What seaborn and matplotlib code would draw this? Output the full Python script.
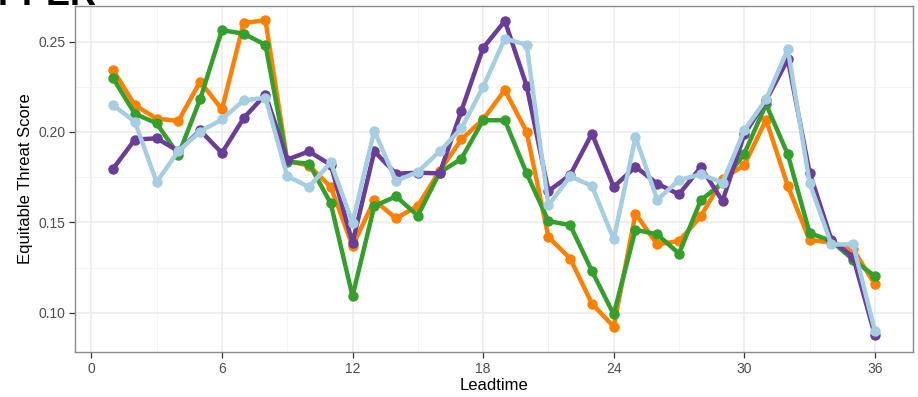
import numpy as np
import pandas as pd
import matplotlib
matplotlib.use("Agg")
import matplotlib.pyplot as plt
import seaborn as sns
from matplotlib.ticker import MultipleLocator

leadtime = list(range(1, 37))
series_names = ["orange", "green", "purple", "lightblue"]
orange = [0.2343, 0.2148, 0.2074, 0.2061, 0.2279, 0.2125, 0.2603, 0.2618, 0.1840,
          0.1814, 0.1696, 0.1369, 0.1622, 0.1522, 0.1592, 0.1784, 0.1959, 0.2070,
          0.2232, 0.2000, 0.1419, 0.1300, 0.1050, 0.0923, 0.1548, 0.1378, 0.1397,
          0.1533, 0.1740, 0.1817, 0.2068, 0.1701, 0.1402, 0.1389, 0.1351, 0.1157]
green = [0.2297, 0.2101, 0.2048, 0.1873, 0.2181, 0.2563, 0.2544, 0.2482, 0.1836,
         0.1825, 0.1605, 0.1092, 0.1590, 0.1644, 0.1537, 0.1775, 0.1852, 0.2065,
         0.2065, 0.1771, 0.1507, 0.1485, 0.1231, 0.0991, 0.1459, 0.1434, 0.1327,
         0.1622, 0.1720, 0.1880, 0.2153, 0.1876, 0.1441, 0.1397, 0.1293, 0.1203]
purple = [0.1797, 0.1958, 0.1965, 0.1895, 0.2009, 0.1884, 0.2077, 0.2207, 0.1847,
          0.1893, 0.1818, 0.1387, 0.1893, 0.1769, 0.1775, 0.1771, 0.2116, 0.2465,
          0.2614, 0.2255, 0.1673, 0.1762, 0.1991, 0.1696, 0.1808, 0.1714, 0.1655,
          0.1806, 0.1618, 0.1987, 0.2175, 0.2402, 0.1775, 0.1404, 0.1308, 0.0876]
lightblue = [0.2148, 0.2057, 0.1723, 0.1895, 0.2002, 0.2070, 0.2175, 0.2190, 0.1756,
             0.1696, 0.1832, 0.1498, 0.2007, 0.1729, 0.1779, 0.1893, 0.2020, 0.2249,
             0.2517, 0.2482, 0.1594, 0.1755, 0.1701, 0.1406, 0.1972, 0.1625, 0.1734,
             0.1766, 0.1720, 0.2009, 0.2181, 0.2458, 0.1718, 0.1378, 0.1378, 0.0899]
x_ticks = [0, 6, 12, 18, 24, 30, 36]
y_ticks = [0.10, 0.15, 0.20, 0.25]
y_tick_labels = ["0.10", "0.15", "0.20", "0.25"]

colors = {"orange": "#FF7F00", "green": "#33A02C", "purple": "#6A3D9A", "lightblue": "#A6CEE3"}

frames = []
for name, vals in zip(series_names, [orange, green, purple, lightblue]):
    frames.append(pd.DataFrame({"Leadtime": leadtime, "ETS": vals, "model": name}))
df = pd.concat(frames, ignore_index=True)

sns.set_style("white")
plt.rcParams["font.family"] = ["Liberation Sans", "DejaVu Sans"]

fig = plt.figure(figsize=(9.18, 3.97), dpi=100)
ax = fig.add_axes([75 / 918, 1 - 352 / 397, (913 - 75) / 918, (352 - 6) / 397])

sns.lineplot(data=df, x="Leadtime", y="ETS", hue="model", hue_order=series_names,
             palette=colors, marker="o", markersize=7.5, markeredgewidth=0,
             linewidth=3.2, legend=False, ax=ax, zorder=3)

ax.set_xlim(-0.75, 37.75)
ax.set_ylim(0.0783, 0.2697)
ax.set_xticks(x_ticks)
ax.set_yticks(y_ticks)
ax.set_yticklabels(y_tick_labels)
ax.xaxis.set_minor_locator(MultipleLocator(3))
ax.yaxis.set_minor_locator(MultipleLocator(0.025))
ax.grid(True, which="major", color="#EBEBEB", linewidth=1.1, zorder=0)
ax.grid(True, which="minor", color="#F2F2F2", linewidth=0.6, zorder=0)
ax.set_axisbelow(True)
for s in ax.spines.values():
    s.set_color("#8A8A8A")
    s.set_linewidth(1.0)
ax.tick_params(axis="both", which="major", length=4, width=0.9, color="#333333",
               labelsize=10, labelcolor="#4D4D4D", pad=3)
ax.tick_params(axis="both", which="minor", length=0)
ax.tick_params(bottom=True, left=True)
ax.set_xlabel("Leadtime", fontsize=12, color="black", labelpad=2)
ax.set_ylabel("Equitable Threat Score", fontsize=12, color="black", labelpad=4)

fig.text(97 / 918, 1 - 5 / 397, "UPPER", ha="right", va="baseline",
         fontsize=26, fontweight="bold", color="black")

fig.savefig("out.png", dpi=100)
